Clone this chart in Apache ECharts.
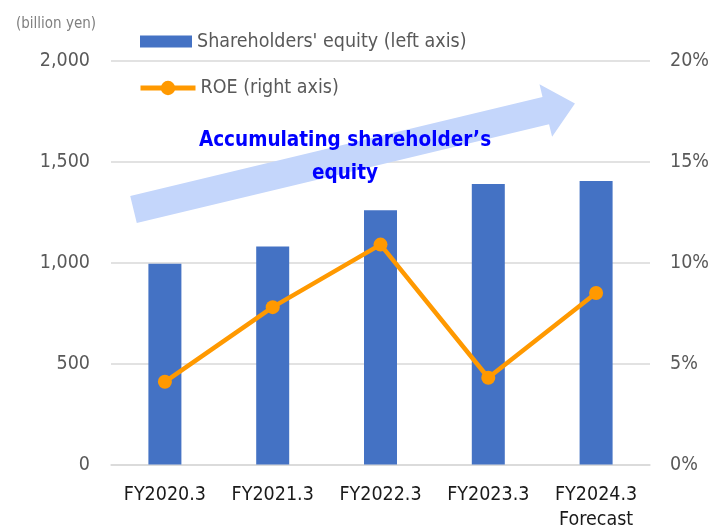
<!DOCTYPE html>
<html>
<head>
<meta charset="utf-8">
<script src="https://cdn.jsdelivr.net/npm/echarts@6/dist/echarts.min.js"></script>
<style>
html,body{margin:0;padding:0;background:#fff;}
#chart{width:712px;height:529px;}
</style>
</head>
<body>
<div id="chart"></div>
<script>
const categories = ['FY2020.3', 'FY2021.3', 'FY2022.3', 'FY2023.3', 'FY2024.3\nForecast'];
const equity = [995, 1080, 1260, 1390, 1405];
const roe = [4.1, 7.8, 10.9, 4.3, 8.5];
const leftTicks = [0, 500, 1000, 1500, 2000];
const rightTicks = [0, 5, 10, 15, 20];
const equityName = "Shareholders' equity (left axis)";
const roeName = 'ROE (right axis)';
const unitLabel = '(billion yen)';
const annotation = 'Accumulating shareholder\u2019s\nequity';

const FONT = '"DejaVu Sans Condensed", "Liberation Sans", sans-serif';

// decorative arrow geometry (annotation, not data)
function arrowPoints() {
  const sx = 133.5, sy = 209.5, ang = -13.5 * Math.PI / 180;
  const ux = Math.cos(ang), uy = Math.sin(ang);
  const nx = -uy, ny = ux;
  const w = 14, H = 27, L = 424, T = 454;
  const p = (a, b) => [sx + a * ux + b * nx, sy + a * uy + b * ny];
  return [p(0, -w), p(L, -w), p(L, -H), p(T, 0), p(L, H), p(L, w), p(0, w)];
}

const chart = echarts.init(document.getElementById('chart'));
chart.setOption({
  animation: false,
  backgroundColor: '#fff',
  textStyle: { fontFamily: FONT },
  grid: { left: 111, right: 62, top: 61, bottom: 64.5, containLabel: false, outerBoundsMode: 'none' },
  legend: [
    {
      data: [{ name: equityName, icon: 'rect' }], left: 140, top: 31.5, padding: 0, itemWidth: 52, itemHeight: 12, itemGap: 5,
      textStyle: { fontFamily: FONT, fontSize: 19.5, color: '#595959' }
    },
    {
      data: [roeName], left: 138, top: 78, padding: 0, itemWidth: 55, itemHeight: 18,
      lineStyle: { width: 5 },
      textStyle: { fontFamily: FONT, fontSize: 19.5, color: '#595959' }
    }
  ],
  xAxis: {
    type: 'category', data: categories,
    axisLine: { lineStyle: { color: '#D9D9D9', width: 1.5 } },
    axisTick: { show: false },
    axisLabel: { interval: 0, color: '#1a1a1a', fontSize: 19.5, margin: 18, lineHeight: 25, fontFamily: FONT }
  },
  yAxis: [
    {
      type: 'value', min: leftTicks[0], max: leftTicks[leftTicks.length - 1], interval: leftTicks[1] - leftTicks[0],
      name: unitLabel, nameLocation: 'end', nameGap: 29,
      nameTextStyle: { color: '#7F7F7F', fontSize: 15, align: 'center', fontFamily: FONT, padding: [0, 0, 0, -110] },
      axisLine: { show: false }, axisTick: { show: false },
      axisLabel: { color: '#595959', fontSize: 19.5, margin: 21, fontFamily: FONT,
        formatter: v => v.toLocaleString('en-US') },
      splitLine: { lineStyle: { color: '#D9D9D9', width: 1.5 } }
    },
    {
      type: 'value', min: rightTicks[0], max: rightTicks[rightTicks.length - 1], interval: rightTicks[1] - rightTicks[0],
      axisLine: { show: false }, axisTick: { show: false },
      axisLabel: { color: '#595959', fontSize: 19.5, margin: 20, fontFamily: FONT, formatter: '{value}%' },
      splitLine: { show: false }
    }
  ],
  graphic: [
    {
      type: 'polygon', z: 1,
      shape: { points: arrowPoints() },
      style: { fill: '#C4D6FB' }
    },
    {
      type: 'text', z: 10, x: 345, y: 157.5,
      style: {
        text: annotation, fill: '#0000FF', fontSize: 20.5, fontWeight: 'bold', fontFamily: FONT,
        textAlign: 'center', textVerticalAlign: 'middle', lineHeight: 33
      }
    }
  ],
  series: [
    {
      name: equityName, type: 'bar', data: equity, barWidth: 33, yAxisIndex: 0,
      itemStyle: { color: '#4472C4' }, z: 2
    },
    {
      name: roeName, type: 'line', data: roe, yAxisIndex: 1,
      symbol: 'circle', symbolSize: 14,
      lineStyle: { color: '#FF9900', width: 4.5 },
      itemStyle: { color: '#FF9900' }, z: 3
    }
  ]
});
</script>
</body>
</html>
